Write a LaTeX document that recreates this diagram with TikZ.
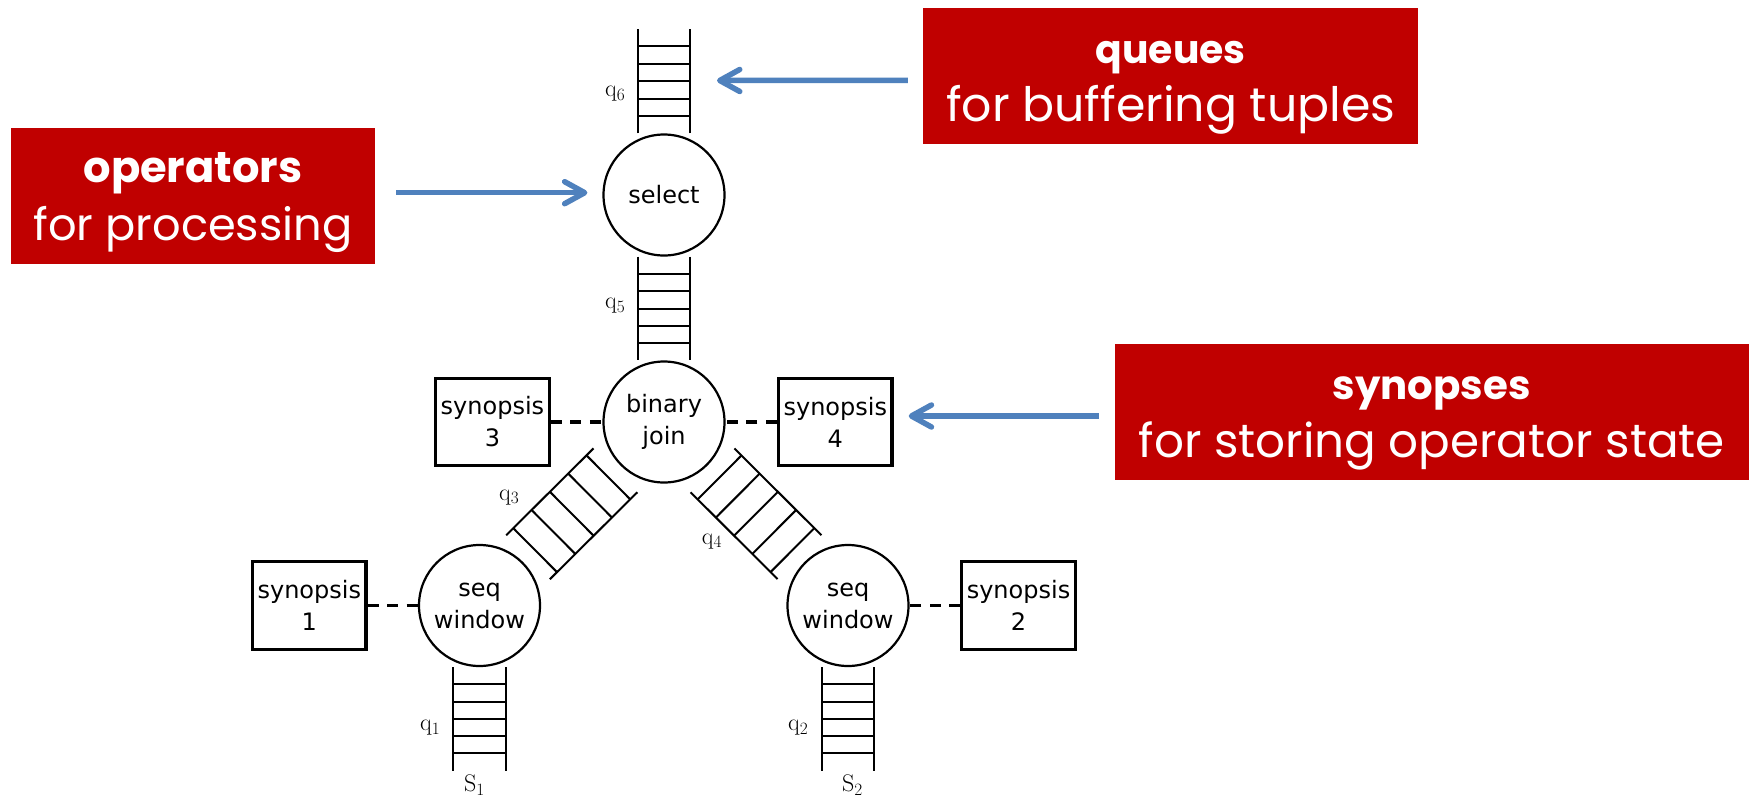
\documentclass[tikz,border=0pt]{standalone}
\usepackage{fontspec}
\usetikzlibrary{calc,arrows.meta}
\newfontfamily\calloutfont{Poppins}
\newfontfamily\diagfont{DejaVu Sans}
\definecolor{calloutred}{HTML}{C00000}
\definecolor{arrowblue}{HTML}{4F81BD}

% Select the callout font at the size that gives a line the wanted width
% #1 width, #2 series switch (\bfseries or \mdseries), #3 text
\newlength\callw
\newcommand\fitcalloutfont[3]{%
  \settowidth\callw{\calloutfont#2\fontsize{10}{12}\selectfont #3}%
  \pgfmathsetmacro\callsz{10*#1/\callw}%
  \calloutfont#2\fontsize{\callsz}{\callsz}\selectfont}

% A queue drawn as a ladder between two axis end points
% #1,#2 end points, #3 half width, #4 first rung fraction, #5 rung step
\newcommand\queueladder[5]{%
  \draw[rail] ($(#1)!#3!90:(#2)$) -- ($(#2)!#3!-90:(#1)$)
              ($(#1)!#3!-90:(#2)$) -- ($(#2)!#3!90:(#1)$);
  \foreach \k in {0,...,4}{%
    \pgfmathsetmacro\rungpos{#4+\k*#5}%
    \coordinate (rungmid) at ($(#1)!\rungpos!(#2)$);
    \draw[rail] ($(rungmid)!#3!90:(#2)$) -- ($(rungmid)!#3!-90:(#2)$);
  }%
}

\begin{document}
\begin{tikzpicture}[x=1pt,y=-1pt,
  opnode/.style={circle,draw,line width=2.2pt,minimum size=121pt,inner sep=0pt,
    align=center,font=\diagfont\fontsize{24}{32}\selectfont},
  synbox/.style={rectangle,draw,line width=3.3pt,minimum width=113.5pt,
    minimum height=87.5pt,inner sep=2pt,align=center,
    font=\diagfont\fontsize{24}{32}\selectfont},
  synlink/.style={line width=3.6pt,dash pattern=on 11pt off 8.5pt},
  rail/.style={line width=2pt},
  qlabel/.style={inner sep=0pt,anchor=base west,font=\fontsize{24}{28}\selectfont},
  callout/.style={rectangle,fill=calloutred,inner sep=0pt,minimum height=136pt},
  calltext/.style={text=white,inner sep=0pt,anchor=base},
  calltip/.style={draw=arrowblue,line width=5.5pt,
    -{Straight Barb[length=20pt,width=22pt,round]}},
]
\useasboundingbox[fill=white] (0,0) rectangle (1754,796);

% operators
\node[opnode] (sel)  at (664,195)   {select};
\node[opnode] (join) at (664,422)   {binary\\join};
\node[opnode] (seqL) at (479.5,605.5) {seq\\window};
\node[opnode] (seqR) at (848,605.5)   {seq\\window};

% synopses
\node[synbox] (syn3) at (492.4,422)   {synopsis\\3};
\node[synbox] (syn4) at (835.3,422)   {synopsis\\4};
\node[synbox] (syn1) at (309.3,605.5) {synopsis\\1};
\node[synbox] (syn2) at (1018.5,605.5) {synopsis\\2};

\draw[synlink] (syn3) -- (join);
\draw[synlink] (syn4) -- (join);
\draw[synlink] (syn1) -- (seqL);
\draw[synlink] (syn2) -- (seqR);

% queue end points
\coordinate (q6top) at (664,29);
\coordinate (s1end) at (479.5,770.7);
\coordinate (s2end) at (848,770.7);
\coordinate (q3a) at ($(join)!68.5pt!(seqL)$);
\coordinate (q3b) at ($(seqL)!68.5pt!(join)$);
\coordinate (q4a) at ($(join)!68.5pt!(seqR)$);
\coordinate (q4b) at ($(seqR)!68.5pt!(join)$);

% queues
\queueladder{sel.north}{q6top}{26.3pt}{0.1667}{0.1667}
\queueladder{sel.south}{join.north}{26.3pt}{0.1667}{0.1667}
\queueladder{seqL.south}{s1end}{26.3pt}{0.1667}{0.1667}
\queueladder{seqR.south}{s2end}{26.3pt}{0.1667}{0.1667}
\queueladder{q3a}{q3b}{31pt}{0.081}{0.2095}
\queueladder{q4a}{q4b}{31pt}{0.081}{0.2095}

% queue and stream labels
\node[qlabel] (lq6) at (605,96.7)  {$\mathrm{q}_6$};
\node[qlabel] (lq5) at (605,308.3) {$\mathrm{q}_5$};
\node[qlabel] (lq3) at (499,500)   {$\mathrm{q}_3$};
\node[qlabel] (lq4) at (701.7,544) {$\mathrm{q}_4$};
\node[qlabel] (lq1) at (420,730.7) {$\mathrm{q}_1$};
\node[qlabel] (lq2) at (788,730.7) {$\mathrm{q}_2$};
\node[qlabel] (ls1) at (464,791.7) {$\mathrm{S}_1$};
\node[qlabel] (ls2) at (842,791.7) {$\mathrm{S}_2$};

% callouts
\node[callout,minimum width=364pt] (opbox) at (193,195.7) {};
\node[calltext,font={\fitcalloutfont{219}{\bfseries}{operators}}]
  (optitle) at ([yshift=13pt]opbox.center) {operators};
\node[calltext,font={\fitcalloutfont{319}{\mdseries}{for processing}}]
  (opsub) at ([yshift=-45pt]opbox.center) {for processing};

\node[callout,minimum width=495.5pt] (qbox) at (1170.7,76) {};
\node[calltext,font={\fitcalloutfont{150}{\bfseries}{queues}}]
  (qtitle) at ([yshift=13pt]qbox.center) {queues};
\node[calltext,font={\fitcalloutfont{449}{\mdseries}{for buffering tuples}}]
  (qsub) at ([yshift=-45pt]qbox.center) {for buffering tuples};

\node[callout,minimum width=633.6pt] (sbox) at (1431.8,412) {};
\node[calltext,font={\fitcalloutfont{198}{\bfseries}{synopses}}]
  (stitle) at ([yshift=13pt]sbox.center) {synopses};
\node[calltext,font={\fitcalloutfont{586}{\mdseries}{for storing operator state}}]
  (ssub) at ([yshift=-45pt]sbox.center) {for storing operator state};

\coordinate (q6mid) at ($(sel.north)!0.5!(q6top)$);
\draw[calltip] ([xshift=21pt,yshift=3pt]opbox.east) -- ([xshift=-15pt,yshift=2.3pt]sel.west);
\draw[calltip] ([xshift=-15pt,yshift=-4.3pt]qbox.west) -- ([xshift=53pt,yshift=0.7pt]q6mid);
\draw[calltip] ([xshift=-16pt,yshift=-4pt]sbox.west) -- ([xshift=15pt,yshift=6pt]syn4.east);
\end{tikzpicture}
\end{document}
